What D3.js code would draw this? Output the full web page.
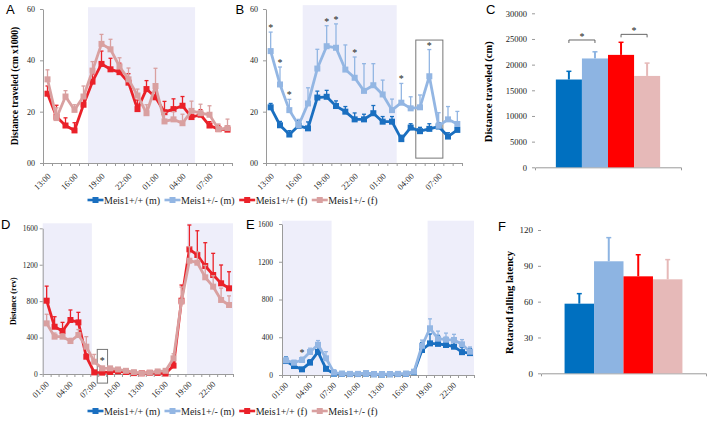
<!DOCTYPE html>
<html>
<meta charset="utf-8" />
<head>
<title>Meis1 activity</title>
<style>
body { margin: 0; background: #fff; }
svg { display: block; }
svg text { font-family: "Liberation Serif", "Times New Roman", serif; fill: #222; }
.letter { font-family: "Liberation Sans", Arial, sans-serif; font-size: 13px; fill: #000; }
.ylab { font-weight: bold; fill: #000; }
.axis path, .axis line { stroke: #9a9a9a; }
</style>
<script src="https://d3js.org/d3.v7.min.js" charset="utf-8"></script>
</head>
<body>
<svg class="chart" width="708" height="421"></svg>

<script>
// ---- data ----
var legendNames = ["Meis1+/+ (m)", "Meis1+/- (m)", "Meis1+/+ (f)", "Meis1+/- (f)"];

var hoursAB = ["13:00","14:00","15:00","16:00","17:00","18:00","19:00","20:00","21:00","22:00","23:00",
  "00:00","01:00","02:00","03:00","04:00","05:00","06:00","07:00","08:00","09:00"];
var ticksAB = ["13:00","16:00","19:00","22:00","01:00","04:00","07:00"];

var hoursDE = ["01:00","02:00","03:00","04:00","05:00","06:00","07:00","08:00","09:00","10:00","11:00","12:00",
  "13:00","14:00","15:00","16:00","17:00","18:00","19:00","20:00","21:00","22:00","23:00","00:00"];
var ticksDE = ["01:00","04:00","07:00","10:00","13:00","16:00","19:00","22:00"];

// A: open field, females (cm x1000)
var aWtF  = [27, 18, 14.6, 12.7, 22.7, 31.7, 38.6, 36.5, 35.4, 31.3, 21, 28.8, 25.6, 19.8, 21, 22.3, 17.9, 18.8, 14.6, 13.2, 13];
var aWtFe = [3, 4.5, 3, 3, 3.5, 3, 5, 4.3, 3.5, 3.5, 3.5, 3.3, 3, 4.2, 4, 3.6, 2.5, 2, 1.5, 1.5, 1.5];
var aHetF  = [32.6, 17.5, 25.9, 20.7, 25.9, 36, 46.4, 44.3, 37.6, 32.6, 26.3, 19.4, 30, 16.2, 17, 15.5, 20.3, 19.4, 18.8, 13.2, 13.6];
var aHetFe = [3.7, 4, 2.3, 2, 4.1, 3.5, 3.7, 3.9, 3.4, 4.4, 2.5, 3.3, 6.9, 3.5, 3, 3.5, 3.8, 3.5, 3.5, 2, 3.5];

// B: open field, males (cm x1000)
var bWtM  = [21.7, 14.7, 11.1, 14.5, 13.5, 25.5, 25.8, 22.2, 20, 17, 17, 19.4, 16.1, 16.1, 9.3, 13.8, 12.4, 13.3, 14.2, 10.3, 12.9];
var bWtMe = [1.5, 1.5, 1.5, 2, 2.5, 2.5, 2.5, 2, 2, 2.5, 2, 3, 2, 2, 1.5, 1.5, 1.5, 2, 1.5, 1.5, 1.5];
var bHetM  = [43.6, 30.6, 20.6, 14.7, 23.2, 36.8, 45.5, 44.9, 36.4, 33.2, 28.1, 30.3, 26.7, 20.6, 23.5, 21.3, 21.7, 33.8, 14.5, 17, 15.2];
var bHetMe = [7.4, 6.8, 4.2, 2.3, 6.1, 7.5, 8, 9.3, 9.6, 8.1, 10.6, 8.4, 5.6, 4.3, 7.5, 4.5, 4.8, 10.4, 5.1, 5, 4.9];
var bStars = [0, 1, 2, 6, 7, 9, 14, 17];

// C: total distance (cm)
var cVals = [17100, 21200, 21900, 17800];
var cErrs = [1600, 1300, 2450, 2500];
var cPairs = [[0, 1, 24800], [2, 3, 25900]];

// D: wheel running, females (rev)
var dWtF  = [805, 519, 472, 593, 567, 190, 18, 15, 22, 30, 22, 10, 8, 12, 12, 5, 92, 805, 1369, 1307, 1186, 1087, 996, 941];
var dWtFe = [160, 110, 95, 110, 110, 30, 10, 8, 8, 8, 8, 6, 6, 6, 6, 6, 40, 172, 267, 266, 256, 238, 201, 182];
var dHetF  = [556, 410, 410, 362, 428, 300, 135, 62, 62, 50, 35, 20, 8, 15, 28, 35, 172, 795, 1244, 1222, 1062, 959, 813, 758];
var dHetFe = [100, 40, 30, 30, 60, 110, 80, 20, 15, 12, 10, 8, 8, 8, 8, 8, 50, 160, 154, 120, 130, 120, 130, 100];
var dStars = [7];

// E: wheel running, males (rev)
var eWtM  = [148, 95, 60, 131, 245, 65, 14, 12, 10, 10, 15, 8, 5, 8, 10, 12, 30, 265, 335, 330, 318, 300, 242, 232];
var eWtMe = [43, 20, 15, 30, 63, 25, 5, 4, 4, 4, 4, 4, 4, 4, 4, 4, 10, 80, 100, 90, 80, 70, 50, 50];
var eHetM  = [155, 130, 159, 244, 320, 177, 25, 14, 12, 12, 18, 10, 8, 10, 12, 14, 35, 310, 495, 385, 374, 371, 325, 247];
var eHetMe = [30, 25, 30, 40, 45, 70, 30, 5, 5, 5, 5, 5, 5, 5, 5, 5, 10, 60, 100, 80, 70, 60, 50, 50];
var eStars = [2];

// F: rotarod
var fVals = [58.3, 93.8, 81.2, 78.7];
var fErrs = [8.4, 19.8, 18.1, 16.5];

var lineColors = ["#1a6fc0", "#93b6e3", "#ea2129", "#d9a0a0"];
var barColors = ["#0070c0", "#8db4e2", "#ff0000", "#e6b9b8"];
var shadeColor = "#eeeefa";

var svg = d3.select(".chart");

// ---- line panels ----
function linePanel(o) {
  var n = o.cats.length;
  var x = d3.scaleLinear().domain([0, n]).range([o.left, o.right]);
  var y = d3.scaleLinear().domain([0, o.yMax]).range([o.bottom, o.top]);
  var g = svg.append("g");

  g.selectAll(".shade").data(o.shades).enter().append("rect")
    .attr("x", function(d) { return x(d[0]); })
    .attr("width", function(d) { return x(d[1]) - x(d[0]); })
    .attr("y", y(o.shadeTop))
    .attr("height", o.bottom - y(o.shadeTop))
    .attr("fill", shadeColor);

  var ya = g.append("g").attr("class", "axis").attr("transform", "translate(" + o.left + ",0)")
    .call(d3.axisLeft(y).tickValues(o.yTicks).tickFormat(o.fmt).tickSize(3).tickSizeOuter(0).tickPadding(o.pad));
  ya.selectAll("text").style("font-size", o.fs + "px").style("font-family", "Liberation Serif").attr("fill", "#222");

  g.append("g").attr("class", "axis").attr("transform", "translate(0," + o.bottom + ")")
    .call(d3.axisBottom(x).tickValues(d3.range(n + 1)).tickFormat("").tickSize(3).tickSizeOuter(0));

  g.selectAll(".xl").data(o.ticks).enter().append("text")
    .attr("transform", function(d) {
      return "translate(" + (x(o.cats.indexOf(d) + 0.5) + o.lx) + "," + (o.bottom + o.ly) + ") rotate(-45)";
    })
    .attr("text-anchor", "end")
    .attr("dy", "0.3em")
    .style("font-size", "8.5px")
    .text(function(d) { return d; });

  if (o.box) {
    g.append("rect")
      .attr("x", x(o.box[0])).attr("width", x(o.box[1]) - x(o.box[0]))
      .attr("y", y(o.box[3])).attr("height", y(o.box[2]) - y(o.box[3]))
      .attr("fill", "none").attr("stroke", "#777").attr("stroke-width", 1);
  }

  var line = d3.line()
    .x(function(d, i) { return x(i + 0.5); })
    .y(function(d) { return y(d); });

  o.series.forEach(function(s) {
    var eg = g.append("g").attr("stroke", s.color).attr("stroke-width", 1.3);
    s.vals.forEach(function(v, i) {
      var top = y(v + s.errs[i]);
      eg.append("line").attr("x1", x(i + 0.5)).attr("x2", x(i + 0.5)).attr("y1", y(v)).attr("y2", top);
      eg.append("line").attr("x1", x(i + 0.5) - 2).attr("x2", x(i + 0.5) + 2).attr("y1", top).attr("y2", top);
    });
    g.append("path").datum(s.vals)
      .attr("d", line).attr("fill", "none")
      .attr("stroke", s.color).attr("stroke-width", 2.8).attr("stroke-linejoin", "round");
    g.selectAll(null).data(s.vals).enter().append("rect")
      .attr("x", function(d, i) { return x(i + 0.5) - 3; })
      .attr("y", function(d) { return y(d) - 3; })
      .attr("width", 6).attr("height", 6)
      .attr("fill", s.color);
  });

  g.selectAll(".star").data(o.stars).enter().append("text")
    .attr("x", function(i) { return x(i + 0.5); })
    .attr("y", function(i) {
      if (o.starAt) return y(o.starAt);
      var m = d3.max(o.series, function(s) { return s.vals[i] + s.errs[i]; });
      return y(m) - 1;
    })
    .attr("text-anchor", "middle")
    .style("font-size", "10px")
    .text("*");

  svg.append("text").attr("class", "letter").attr("x", o.letterX).attr("y", o.letterY).text(o.letter);

  if (o.ylabel) {
    svg.append("text").attr("class", "ylab")
      .attr("transform", "translate(" + o.ylabX + "," + ((o.top + o.bottom) / 2) + ") rotate(-90)")
      .attr("text-anchor", "middle").attr("dy", "0.35em")
      .style("font-size", o.ylabFs + "px")
      .text(o.ylabel);
  }
}

// ---- bar panels ----
function barPanel(o) {
  var x = d3.scaleBand().domain(d3.range(o.vals.length)).range([o.left, o.right])
    .paddingInner(0).paddingOuter(0.8);
  var y = d3.scaleLinear().domain([0, o.yMax]).range([o.bottom, o.top]);
  var g = svg.append("g");

  var ya = g.append("g").attr("class", "axis").attr("transform", "translate(" + o.left + ",0)")
    .call(d3.axisLeft(y).tickValues(o.yTicks).tickFormat(d3.format("d")).tickSize(3).tickSizeOuter(0).tickPadding(5));
  ya.select(".domain").remove();
  ya.selectAll("text").style("font-size", o.fs + "px").style("font-family", "Liberation Serif").attr("fill", "#222");

  g.append("g").attr("class", "axis").attr("transform", "translate(0," + o.bottom + ")")
    .call(d3.axisBottom(x).tickValues([]).tickSizeOuter(3));

  g.selectAll(".bar").data(o.vals).enter().append("rect")
    .attr("x", function(d, i) { return x(i); })
    .attr("width", x.bandwidth())
    .attr("y", function(d) { return y(d); })
    .attr("height", function(d) { return o.bottom - y(d); })
    .attr("fill", function(d, i) { return barColors[i]; });

  o.vals.forEach(function(v, i) {
    var cx = x(i) + x.bandwidth() / 2, top = y(v + o.errs[i]);
    g.append("line").attr("x1", cx).attr("x2", cx).attr("y1", y(v)).attr("y2", top)
      .attr("stroke", barColors[i]).attr("stroke-width", 2);
    g.append("line").attr("x1", cx - 2.5).attr("x2", cx + 2.5).attr("y1", top).attr("y2", top)
      .attr("stroke", barColors[i]).attr("stroke-width", 1.5);
  });

  (o.pairs || []).forEach(function(p) {
    var a = x(p[0]) + x.bandwidth() / 2, b = x(p[1]) + x.bandwidth() / 2, py = y(p[2]);
    g.append("path")
      .attr("d", "M" + a + "," + (py + 3) + "V" + py + "H" + b + "V" + (py + 3))
      .attr("fill", "none").attr("stroke", "#555").attr("stroke-width", 0.9);
    g.append("text").attr("x", (a + b) / 2).attr("y", py).attr("text-anchor", "middle")
      .style("font-size", "10px").text("*");
  });

  svg.append("text").attr("class", "letter").attr("x", o.letterX).attr("y", o.letterY).text(o.letter);
  svg.append("text").attr("class", "ylab")
    .attr("transform", "translate(" + o.ylabX + "," + o.ylabY + ") rotate(-90)")
    .attr("text-anchor", "middle").attr("dy", "0.35em")
    .style("font-size", o.ylabFs + "px")
    .text(o.ylabel);
}

var fmt2 = function(d) { return d3.format("02d")(d); };

linePanel({
  cats: hoursAB, ticks: ticksAB, left: 43, right: 232, top: 9, bottom: 163,
  yMax: 60, yTicks: [0, 20, 40, 60], fmt: fmt2, pad: 5, fs: 8, lx: 2, ly: 12,
  shades: [[5, 16.9]], shadeTop: 60.7,
  series: [
    { vals: aWtF, errs: aWtFe, color: lineColors[2] },
    { vals: aHetF, errs: aHetFe, color: lineColors[3] }
  ],
  stars: [], letter: "A", letterX: 6, letterY: 14,
  ylabel: "Distance traveled (cm x1000)", ylabX: 15, ylabFs: 9.6
});

linePanel({
  cats: hoursAB, ticks: ticksAB, left: 266, right: 462, top: 9, bottom: 163,
  yMax: 60, yTicks: [0, 20, 40, 60], fmt: fmt2, pad: 5, fs: 8, lx: 2, ly: 12,
  shades: [[3.93, 14]], shadeTop: 61.5,
  box: [16.05, 18.95, 1.9, 47.9],
  series: [
    { vals: bWtM, errs: bWtMe, color: lineColors[0] },
    { vals: bHetM, errs: bHetMe, color: lineColors[1] }
  ],
  stars: bStars, letter: "B", letterX: 235.5, letterY: 14
});

linePanel({
  cats: hoursDE, ticks: ticksDE, left: 42.7, right: 233, top: 228.3, bottom: 374,
  yMax: 1600, yTicks: [0, 400, 800, 1200, 1600], fmt: d3.format("d"), pad: 2, fs: 7.5, lx: 1, ly: 9,
  shades: [[0, 6.2], [18.2, 24]], shadeTop: 1655,
  box: [6.88, 8.18, -100, 270], starAt: 105,
  series: [
    { vals: dWtF, errs: dWtFe, color: lineColors[2] },
    { vals: dHetF, errs: dHetFe, color: lineColors[3] }
  ],
  stars: dStars, letter: "D", letterX: 1, letterY: 229,
  ylabel: "Distance (rev)", ylabX: 13, ylabFs: 8
});

linePanel({
  cats: hoursDE, ticks: ticksDE, left: 282, right: 474, top: 224, bottom: 375,
  yMax: 1600, yTicks: [0, 400, 800, 1200, 1600], fmt: d3.format("d"), pad: 6, fs: 7.5, lx: 1, ly: 9,
  shades: [[0, 6.2], [18.2, 24]], shadeTop: 1635,
  series: [
    { vals: eWtM, errs: eWtMe, color: lineColors[0] },
    { vals: eHetM, errs: eHetMe, color: lineColors[1] }
  ],
  stars: eStars, letter: "E", letterX: 246, letterY: 229
});

barPanel({
  vals: cVals, errs: cErrs, pairs: cPairs, left: 535, right: 681, top: 13.3, bottom: 167.3,
  yMax: 30000, yTicks: d3.range(0, 30001, 5000), fs: 8.5,
  letter: "C", letterX: 486, letterY: 14,
  ylabel: "Distance traveled (cm)", ylabX: 488, ylabY: 91.7, ylabFs: 10.5
});

barPanel({
  vals: fVals, errs: fErrs, left: 541, right: 706, top: 230, bottom: 373.3,
  yMax: 120, yTicks: [0, 30, 60, 90, 120], fs: 9,
  letter: "F", letterX: 498, letterY: 231,
  ylabel: "Rotarod falling latency", ylabX: 509.5, ylabY: 302.5, ylabFs: 10.5
});

// ---- legends ----
function legend(lx, ly) {
  var g = svg.append("g");
  var cx = lx;
  legendNames.forEach(function(name, i) {
    g.append("line").attr("x1", cx).attr("x2", cx + 16).attr("y1", ly).attr("y2", ly)
      .attr("stroke", lineColors[i]).attr("stroke-width", 2.6);
    g.append("rect").attr("x", cx + 5).attr("y", ly - 3).attr("width", 6).attr("height", 6)
      .attr("fill", lineColors[i]);
    var t = g.append("text").attr("x", cx + 16.5).attr("y", ly + 3.5)
      .style("font-size", "10px").attr("fill", "#111").text(name);
    cx += 16.5 + t.node().getComputedTextLength() + 4.5;
  });
}
legend(87.5, 200);
legend(87.5, 411);
</script>
</body>
</html>
